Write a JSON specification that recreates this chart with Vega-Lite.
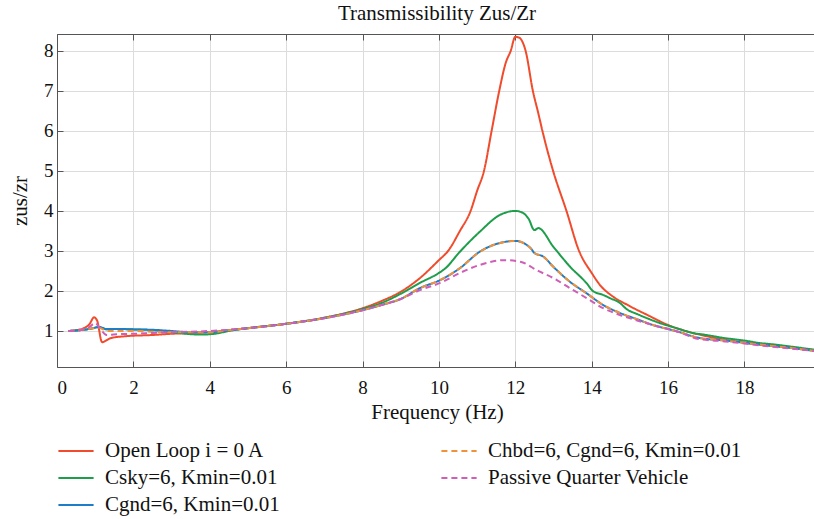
{
  "$schema": "https://vega.github.io/schema/vega-lite/v6.json",
  "autosize": {"type": "none"},
  "width": 760,
  "height": 333,
  "padding": {"left": 57, "top": 34, "right": 0, "bottom": 152},
  "background": "white",
  "title": {"text": "Transmissibility Zus/Zr", "fontSize": 21, "font": "Liberation Serif", "fontWeight": "normal", "color": "#111111", "offset": 9, "anchor": "middle"},
  "config": {
    "font": "Liberation Serif",
    "view": {"stroke": null},
    "line": {"strokeWidth": 2, "interpolate": "monotone"}
  },
  "data": {"values": [
    {"s":"Open Loop i = 0 A","f":0.3,"v":1.0},{"s":"Open Loop i = 0 A","f":0.5,"v":1.02},{"s":"Open Loop i = 0 A","f":0.7,"v":1.07},{"s":"Open Loop i = 0 A","f":0.85,"v":1.17},{"s":"Open Loop i = 0 A","f":0.97,"v":1.34},{"s":"Open Loop i = 0 A","f":1.05,"v":1.26},{"s":"Open Loop i = 0 A","f":1.18,"v":0.72},{"s":"Open Loop i = 0 A","f":1.4,"v":0.82},{"s":"Open Loop i = 0 A","f":1.8,"v":0.87},{"s":"Open Loop i = 0 A","f":2.5,"v":0.9},{"s":"Open Loop i = 0 A","f":3.0,"v":0.93},{"s":"Open Loop i = 0 A","f":3.5,"v":0.95},{"s":"Open Loop i = 0 A","f":4.0,"v":0.97},{"s":"Open Loop i = 0 A","f":4.5,"v":1.02},{"s":"Open Loop i = 0 A","f":5.0,"v":1.07},{"s":"Open Loop i = 0 A","f":6.0,"v":1.18},{"s":"Open Loop i = 0 A","f":7.0,"v":1.33},{"s":"Open Loop i = 0 A","f":8.0,"v":1.57},{"s":"Open Loop i = 0 A","f":8.5,"v":1.75},{"s":"Open Loop i = 0 A","f":9.0,"v":1.98},{"s":"Open Loop i = 0 A","f":9.5,"v":2.32},{"s":"Open Loop i = 0 A","f":10.0,"v":2.77},{"s":"Open Loop i = 0 A","f":10.24,"v":3.0},{"s":"Open Loop i = 0 A","f":10.55,"v":3.5},{"s":"Open Loop i = 0 A","f":10.83,"v":4.0},{"s":"Open Loop i = 0 A","f":11.0,"v":4.5},{"s":"Open Loop i = 0 A","f":11.18,"v":5.0},{"s":"Open Loop i = 0 A","f":11.38,"v":6.0},{"s":"Open Loop i = 0 A","f":11.58,"v":7.0},{"s":"Open Loop i = 0 A","f":11.75,"v":7.7},{"s":"Open Loop i = 0 A","f":11.88,"v":8.0},{"s":"Open Loop i = 0 A","f":12.0,"v":8.35},{"s":"Open Loop i = 0 A","f":12.1,"v":8.33},{"s":"Open Loop i = 0 A","f":12.27,"v":8.0},{"s":"Open Loop i = 0 A","f":12.46,"v":7.0},{"s":"Open Loop i = 0 A","f":12.6,"v":6.45},{"s":"Open Loop i = 0 A","f":12.71,"v":6.0},{"s":"Open Loop i = 0 A","f":12.99,"v":5.0},{"s":"Open Loop i = 0 A","f":13.34,"v":4.0},{"s":"Open Loop i = 0 A","f":13.67,"v":3.0},{"s":"Open Loop i = 0 A","f":14.0,"v":2.45},{"s":"Open Loop i = 0 A","f":14.26,"v":2.1},{"s":"Open Loop i = 0 A","f":14.5,"v":1.9},{"s":"Open Loop i = 0 A","f":15.0,"v":1.62},{"s":"Open Loop i = 0 A","f":15.5,"v":1.38},{"s":"Open Loop i = 0 A","f":16.0,"v":1.15},{"s":"Open Loop i = 0 A","f":16.5,"v":0.99},{"s":"Open Loop i = 0 A","f":17.0,"v":0.87},{"s":"Open Loop i = 0 A","f":17.5,"v":0.78},{"s":"Open Loop i = 0 A","f":18.0,"v":0.71},{"s":"Open Loop i = 0 A","f":18.5,"v":0.65},{"s":"Open Loop i = 0 A","f":19.0,"v":0.6},{"s":"Open Loop i = 0 A","f":19.5,"v":0.55},{"s":"Open Loop i = 0 A","f":19.85,"v":0.52},

    {"s":"Csky=6, Kmin=0.01","f":0.3,"v":1.0},{"s":"Csky=6, Kmin=0.01","f":0.6,"v":1.02},{"s":"Csky=6, Kmin=0.01","f":0.9,"v":1.06},{"s":"Csky=6, Kmin=0.01","f":1.1,"v":1.1},{"s":"Csky=6, Kmin=0.01","f":1.3,"v":1.04},{"s":"Csky=6, Kmin=0.01","f":1.6,"v":1.05},{"s":"Csky=6, Kmin=0.01","f":2.0,"v":1.04},{"s":"Csky=6, Kmin=0.01","f":2.5,"v":1.02},{"s":"Csky=6, Kmin=0.01","f":3.0,"v":0.97},{"s":"Csky=6, Kmin=0.01","f":3.5,"v":0.92},{"s":"Csky=6, Kmin=0.01","f":3.8,"v":0.91},{"s":"Csky=6, Kmin=0.01","f":4.2,"v":0.94},{"s":"Csky=6, Kmin=0.01","f":4.5,"v":1.0},{"s":"Csky=6, Kmin=0.01","f":5.0,"v":1.07},{"s":"Csky=6, Kmin=0.01","f":6.0,"v":1.18},{"s":"Csky=6, Kmin=0.01","f":7.0,"v":1.33},{"s":"Csky=6, Kmin=0.01","f":8.0,"v":1.55},{"s":"Csky=6, Kmin=0.01","f":8.5,"v":1.7},{"s":"Csky=6, Kmin=0.01","f":9.0,"v":1.93},{"s":"Csky=6, Kmin=0.01","f":9.5,"v":2.2},{"s":"Csky=6, Kmin=0.01","f":10.0,"v":2.45},{"s":"Csky=6, Kmin=0.01","f":10.15,"v":2.55},{"s":"Csky=6, Kmin=0.01","f":10.55,"v":2.98},{"s":"Csky=6, Kmin=0.01","f":11.07,"v":3.48},{"s":"Csky=6, Kmin=0.01","f":11.6,"v":3.9},{"s":"Csky=6, Kmin=0.01","f":12.0,"v":4.0},{"s":"Csky=6, Kmin=0.01","f":12.2,"v":3.95},{"s":"Csky=6, Kmin=0.01","f":12.35,"v":3.8},{"s":"Csky=6, Kmin=0.01","f":12.5,"v":3.52},{"s":"Csky=6, Kmin=0.01","f":12.6,"v":3.57},{"s":"Csky=6, Kmin=0.01","f":13.0,"v":3.1},{"s":"Csky=6, Kmin=0.01","f":13.43,"v":2.61},{"s":"Csky=6, Kmin=0.01","f":13.87,"v":2.19},{"s":"Csky=6, Kmin=0.01","f":14.03,"v":2.0},{"s":"Csky=6, Kmin=0.01","f":14.3,"v":1.9},{"s":"Csky=6, Kmin=0.01","f":14.48,"v":1.82},{"s":"Csky=6, Kmin=0.01","f":14.74,"v":1.7},{"s":"Csky=6, Kmin=0.01","f":14.91,"v":1.55},{"s":"Csky=6, Kmin=0.01","f":15.2,"v":1.42},{"s":"Csky=6, Kmin=0.01","f":15.5,"v":1.3},{"s":"Csky=6, Kmin=0.01","f":15.78,"v":1.2},{"s":"Csky=6, Kmin=0.01","f":16.22,"v":1.07},{"s":"Csky=6, Kmin=0.01","f":16.65,"v":0.95},{"s":"Csky=6, Kmin=0.01","f":17.0,"v":0.9},{"s":"Csky=6, Kmin=0.01","f":17.5,"v":0.82},{"s":"Csky=6, Kmin=0.01","f":18.0,"v":0.76},{"s":"Csky=6, Kmin=0.01","f":18.4,"v":0.7},{"s":"Csky=6, Kmin=0.01","f":18.8,"v":0.66},{"s":"Csky=6, Kmin=0.01","f":19.3,"v":0.6},{"s":"Csky=6, Kmin=0.01","f":19.85,"v":0.53},

    {"s":"Cgnd=6, Kmin=0.01","f":0.3,"v":1.0},{"s":"Cgnd=6, Kmin=0.01","f":0.6,"v":1.02},{"s":"Cgnd=6, Kmin=0.01","f":0.9,"v":1.06},{"s":"Cgnd=6, Kmin=0.01","f":1.1,"v":1.1},{"s":"Cgnd=6, Kmin=0.01","f":1.3,"v":1.05},{"s":"Cgnd=6, Kmin=0.01","f":1.6,"v":1.05},{"s":"Cgnd=6, Kmin=0.01","f":2.0,"v":1.04},{"s":"Cgnd=6, Kmin=0.01","f":2.5,"v":1.03},{"s":"Cgnd=6, Kmin=0.01","f":3.0,"v":1.0},{"s":"Cgnd=6, Kmin=0.01","f":3.5,"v":0.97},{"s":"Cgnd=6, Kmin=0.01","f":4.0,"v":0.97},{"s":"Cgnd=6, Kmin=0.01","f":4.5,"v":1.02},{"s":"Cgnd=6, Kmin=0.01","f":5.0,"v":1.07},{"s":"Cgnd=6, Kmin=0.01","f":6.0,"v":1.18},{"s":"Cgnd=6, Kmin=0.01","f":7.0,"v":1.32},{"s":"Cgnd=6, Kmin=0.01","f":8.0,"v":1.52},{"s":"Cgnd=6, Kmin=0.01","f":8.5,"v":1.65},{"s":"Cgnd=6, Kmin=0.01","f":9.0,"v":1.8},{"s":"Cgnd=6, Kmin=0.01","f":9.5,"v":2.07},{"s":"Cgnd=6, Kmin=0.01","f":10.03,"v":2.27},{"s":"Cgnd=6, Kmin=0.01","f":10.55,"v":2.57},{"s":"Cgnd=6, Kmin=0.01","f":11.07,"v":2.98},{"s":"Cgnd=6, Kmin=0.01","f":11.6,"v":3.2},{"s":"Cgnd=6, Kmin=0.01","f":12.0,"v":3.25},{"s":"Cgnd=6, Kmin=0.01","f":12.4,"v":3.07},{"s":"Cgnd=6, Kmin=0.01","f":12.5,"v":2.95},{"s":"Cgnd=6, Kmin=0.01","f":12.73,"v":2.86},{"s":"Cgnd=6, Kmin=0.01","f":13.0,"v":2.6},{"s":"Cgnd=6, Kmin=0.01","f":13.43,"v":2.23},{"s":"Cgnd=6, Kmin=0.01","f":13.87,"v":1.94},{"s":"Cgnd=6, Kmin=0.01","f":14.3,"v":1.65},{"s":"Cgnd=6, Kmin=0.01","f":14.74,"v":1.45},{"s":"Cgnd=6, Kmin=0.01","f":15.17,"v":1.3},{"s":"Cgnd=6, Kmin=0.01","f":15.6,"v":1.15},{"s":"Cgnd=6, Kmin=0.01","f":16.2,"v":1.0},{"s":"Cgnd=6, Kmin=0.01","f":16.8,"v":0.83},{"s":"Cgnd=6, Kmin=0.01","f":17.5,"v":0.76},{"s":"Cgnd=6, Kmin=0.01","f":18.4,"v":0.66},{"s":"Cgnd=6, Kmin=0.01","f":19.0,"v":0.6},{"s":"Cgnd=6, Kmin=0.01","f":19.85,"v":0.5},

    {"s":"Chbd=6, Cgnd=6, Kmin=0.01","f":0.3,"v":1.0},{"s":"Chbd=6, Cgnd=6, Kmin=0.01","f":0.6,"v":1.02},{"s":"Chbd=6, Cgnd=6, Kmin=0.01","f":0.9,"v":1.06},{"s":"Chbd=6, Cgnd=6, Kmin=0.01","f":1.1,"v":1.08},{"s":"Chbd=6, Cgnd=6, Kmin=0.01","f":1.3,"v":1.0},{"s":"Chbd=6, Cgnd=6, Kmin=0.01","f":1.6,"v":1.0},{"s":"Chbd=6, Cgnd=6, Kmin=0.01","f":2.0,"v":1.0},{"s":"Chbd=6, Cgnd=6, Kmin=0.01","f":2.5,"v":0.98},{"s":"Chbd=6, Cgnd=6, Kmin=0.01","f":3.0,"v":0.97},{"s":"Chbd=6, Cgnd=6, Kmin=0.01","f":3.5,"v":0.97},{"s":"Chbd=6, Cgnd=6, Kmin=0.01","f":4.0,"v":0.97},{"s":"Chbd=6, Cgnd=6, Kmin=0.01","f":4.5,"v":1.02},{"s":"Chbd=6, Cgnd=6, Kmin=0.01","f":5.0,"v":1.07},{"s":"Chbd=6, Cgnd=6, Kmin=0.01","f":6.0,"v":1.18},{"s":"Chbd=6, Cgnd=6, Kmin=0.01","f":7.0,"v":1.32},{"s":"Chbd=6, Cgnd=6, Kmin=0.01","f":8.0,"v":1.52},{"s":"Chbd=6, Cgnd=6, Kmin=0.01","f":8.5,"v":1.65},{"s":"Chbd=6, Cgnd=6, Kmin=0.01","f":9.0,"v":1.8},{"s":"Chbd=6, Cgnd=6, Kmin=0.01","f":9.5,"v":2.07},{"s":"Chbd=6, Cgnd=6, Kmin=0.01","f":10.03,"v":2.27},{"s":"Chbd=6, Cgnd=6, Kmin=0.01","f":10.55,"v":2.57},{"s":"Chbd=6, Cgnd=6, Kmin=0.01","f":11.07,"v":2.98},{"s":"Chbd=6, Cgnd=6, Kmin=0.01","f":11.6,"v":3.2},{"s":"Chbd=6, Cgnd=6, Kmin=0.01","f":12.0,"v":3.25},{"s":"Chbd=6, Cgnd=6, Kmin=0.01","f":12.4,"v":3.07},{"s":"Chbd=6, Cgnd=6, Kmin=0.01","f":12.5,"v":2.95},{"s":"Chbd=6, Cgnd=6, Kmin=0.01","f":12.73,"v":2.86},{"s":"Chbd=6, Cgnd=6, Kmin=0.01","f":13.0,"v":2.6},{"s":"Chbd=6, Cgnd=6, Kmin=0.01","f":13.43,"v":2.23},{"s":"Chbd=6, Cgnd=6, Kmin=0.01","f":13.87,"v":1.94},{"s":"Chbd=6, Cgnd=6, Kmin=0.01","f":14.3,"v":1.65},{"s":"Chbd=6, Cgnd=6, Kmin=0.01","f":14.74,"v":1.45},{"s":"Chbd=6, Cgnd=6, Kmin=0.01","f":15.17,"v":1.3},{"s":"Chbd=6, Cgnd=6, Kmin=0.01","f":15.6,"v":1.15},{"s":"Chbd=6, Cgnd=6, Kmin=0.01","f":16.2,"v":1.0},{"s":"Chbd=6, Cgnd=6, Kmin=0.01","f":16.8,"v":0.83},{"s":"Chbd=6, Cgnd=6, Kmin=0.01","f":17.5,"v":0.76},{"s":"Chbd=6, Cgnd=6, Kmin=0.01","f":18.4,"v":0.66},{"s":"Chbd=6, Cgnd=6, Kmin=0.01","f":19.0,"v":0.6},{"s":"Chbd=6, Cgnd=6, Kmin=0.01","f":19.85,"v":0.5},

    {"s":"Passive Quarter Vehicle","f":0.3,"v":1.0},{"s":"Passive Quarter Vehicle","f":0.6,"v":1.02},{"s":"Passive Quarter Vehicle","f":0.85,"v":1.1},{"s":"Passive Quarter Vehicle","f":1.0,"v":1.2},{"s":"Passive Quarter Vehicle","f":1.1,"v":1.1},{"s":"Passive Quarter Vehicle","f":1.3,"v":0.9},{"s":"Passive Quarter Vehicle","f":1.6,"v":0.92},{"s":"Passive Quarter Vehicle","f":2.0,"v":0.93},{"s":"Passive Quarter Vehicle","f":2.5,"v":0.95},{"s":"Passive Quarter Vehicle","f":3.0,"v":0.97},{"s":"Passive Quarter Vehicle","f":3.5,"v":0.98},{"s":"Passive Quarter Vehicle","f":4.0,"v":1.0},{"s":"Passive Quarter Vehicle","f":4.5,"v":1.03},{"s":"Passive Quarter Vehicle","f":5.0,"v":1.07},{"s":"Passive Quarter Vehicle","f":6.0,"v":1.18},{"s":"Passive Quarter Vehicle","f":7.0,"v":1.32},{"s":"Passive Quarter Vehicle","f":8.0,"v":1.52},{"s":"Passive Quarter Vehicle","f":8.5,"v":1.65},{"s":"Passive Quarter Vehicle","f":9.0,"v":1.8},{"s":"Passive Quarter Vehicle","f":9.5,"v":2.02},{"s":"Passive Quarter Vehicle","f":10.03,"v":2.2},{"s":"Passive Quarter Vehicle","f":10.55,"v":2.45},{"s":"Passive Quarter Vehicle","f":11.07,"v":2.65},{"s":"Passive Quarter Vehicle","f":11.7,"v":2.77},{"s":"Passive Quarter Vehicle","f":12.13,"v":2.73},{"s":"Passive Quarter Vehicle","f":12.6,"v":2.5},{"s":"Passive Quarter Vehicle","f":13.0,"v":2.32},{"s":"Passive Quarter Vehicle","f":13.43,"v":2.07},{"s":"Passive Quarter Vehicle","f":13.87,"v":1.82},{"s":"Passive Quarter Vehicle","f":14.3,"v":1.57},{"s":"Passive Quarter Vehicle","f":14.74,"v":1.4},{"s":"Passive Quarter Vehicle","f":15.17,"v":1.27},{"s":"Passive Quarter Vehicle","f":15.6,"v":1.15},{"s":"Passive Quarter Vehicle","f":16.2,"v":1.0},{"s":"Passive Quarter Vehicle","f":16.8,"v":0.8},{"s":"Passive Quarter Vehicle","f":17.5,"v":0.74},{"s":"Passive Quarter Vehicle","f":18.4,"v":0.64},{"s":"Passive Quarter Vehicle","f":19.0,"v":0.58},{"s":"Passive Quarter Vehicle","f":19.85,"v":0.5}
  ]},
  "encoding": {
    "y": {"field": "v", "type": "quantitative",
      "scale": {"domain": [0.1, 8.42], "nice": false, "zero": false},
      "axis": {"values": [1,2,3,4,5,6,7,8], "grid": true, "gridColor": "#dcdcdc", "domainColor": "#555555", "tickColor": "#555555", "tickSize": -6, "labelFont": "Liberation Serif", "labelFontSize": 19, "labelColor": "#111111", "labelPadding": 10, "title": "zus/zr", "titleFont": "Liberation Serif", "titleFontSize": 21, "titleFontWeight": "normal", "titleColor": "#111111", "titlePadding": 13}},
    "color": {"field": "s", "type": "nominal",
      "scale": {"domain": ["Open Loop i = 0 A", "Csky=6, Kmin=0.01", "Cgnd=6, Kmin=0.01", "Chbd=6, Cgnd=6, Kmin=0.01", "Passive Quarter Vehicle"],
                "range": ["#F04B2C", "#1E9E4B", "#1F7DC8", "#F0923A", "#CE5EB6"]},
      "legend": {"orient": "none", "legendX": 7, "legendY": 405, "columns": 2, "columnPadding": 157, "rowPadding": 5, "symbolType": "M-1.6,0L1.6,0", "symbolSize": 484, "symbolStrokeWidth": 1.5, "labelFont": "Liberation Serif", "labelFontSize": 21, "labelColor": "#111111", "labelOffset": 17, "title": null, "labelLimit": 400}},
    "strokeDash": {"field": "s", "type": "nominal",
      "scale": {"domain": ["Open Loop i = 0 A", "Csky=6, Kmin=0.01", "Cgnd=6, Kmin=0.01", "Chbd=6, Cgnd=6, Kmin=0.01", "Passive Quarter Vehicle"],
                "range": [[1,0], [1,0], [1,0], [6,4], [6,4]]},
      "legend": {"orient": "none", "legendX": 7, "legendY": 405, "columns": 2, "columnPadding": 157, "rowPadding": 5, "symbolType": "M-1.6,0L1.6,0", "symbolSize": 484, "symbolStrokeWidth": 1.5, "labelFont": "Liberation Serif", "labelFontSize": 21, "labelColor": "#111111", "labelOffset": 17, "title": null, "labelLimit": 400}}
  },
  "resolve": {"axis": {"x": "independent"}},
  "layer": [
    {"transform": [{"filter": "datum.s === 'Open Loop i = 0 A'"}],
     "mark": {"type": "line", "strokeWidth": 2},
     "encoding": {"x": {"field": "f", "type": "quantitative", "scale": {"domain": [0, 19.9], "nice": false, "zero": false},
       "axis": {"orient": "bottom", "values": [0,2,4,6,8,10,12,14,16,18], "grid": true, "gridColor": "#dcdcdc", "domainColor": "#555555", "tickColor": "#555555", "tickSize": -6, "labelFont": "Liberation Serif", "labelFontSize": 19, "labelColor": "#111111", "labelPadding": 17, "title": "Frequency (Hz)", "titleFont": "Liberation Serif", "titleFontSize": 21, "titleFontWeight": "normal", "titleColor": "#111111", "titlePadding": 4}}}},
    {"transform": [{"filter": "datum.s === 'Csky=6, Kmin=0.01'"}],
     "mark": {"type": "line", "strokeWidth": 2},
     "encoding": {"x": {"field": "f", "type": "quantitative", "scale": {"domain": [0, 19.9], "nice": false, "zero": false}, "axis": null}}},
    {"transform": [{"filter": "datum.s === 'Cgnd=6, Kmin=0.01'"}],
     "mark": {"type": "line", "strokeWidth": 2},
     "encoding": {"x": {"field": "f", "type": "quantitative", "scale": {"domain": [0, 19.9], "nice": false, "zero": false}, "axis": null}}},
    {"transform": [{"filter": "datum.s === 'Chbd=6, Cgnd=6, Kmin=0.01'"}],
     "mark": {"type": "line", "strokeWidth": 2},
     "encoding": {"x": {"field": "f", "type": "quantitative", "scale": {"domain": [0, 19.9], "nice": false, "zero": false}, "axis": null}}},
    {"transform": [{"filter": "datum.s === 'Passive Quarter Vehicle'"}],
     "mark": {"type": "line", "strokeWidth": 2},
     "encoding": {"x": {"field": "f", "type": "quantitative", "scale": {"domain": [0, 19.9], "nice": false, "zero": false},
       "axis": {"orient": "top", "values": [0,2,4,6,8,10,12,14,16,18], "grid": false, "labels": false, "domainColor": "#555555", "tickColor": "#555555", "tickSize": -6, "title": null}}}}
  ]
}
